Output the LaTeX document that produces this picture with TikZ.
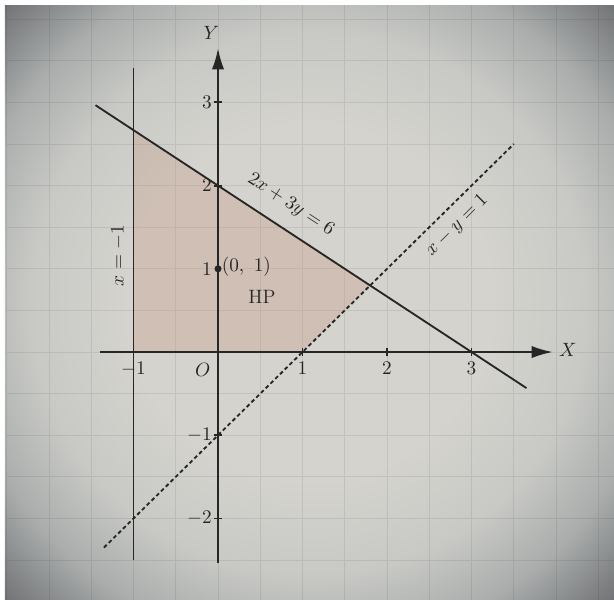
\documentclass[tikz,border=0pt]{standalone}
\usepackage{amsmath}
\usepackage{tikz}
\usetikzlibrary{arrows.meta}
\definecolor{inkgrey}{HTML}{262626}
\definecolor{paperlight}{RGB}{212,211,206}
\definecolor{papermid}{RGB}{200,201,197}
\definecolor{paperedge}{RGB}{170,173,172}
\definecolor{paperdark}{RGB}{108,110,113}
\definecolor{regiontint}{RGB}{196,148,124}
\pgfdeclareradialshading{paperglow}{\pgfpoint{0bp}{0bp}}{color(0bp)=(paperlight); color(15bp)=(paperlight); color(23bp)=(papermid); color(29bp)=(paperedge); color(36bp)=(paperdark); color(50bp)=(paperdark)}
\tikzset{
  axisline/.style={-{Latex[length=12pt,width=7pt]}, line width=1.05pt, draw=inkgrey},
  boundline/.style={line width=1.05pt, draw=inkgrey},
  dotline/.style={line width=1.05pt, draw=inkgrey, dash pattern=on 2.2pt off 1.6pt},
  ticklabel/.style={font=\fontsize{11}{13}\selectfont, text=inkgrey, inner sep=1pt},
  eqlabel/.style={font=\fontsize{11}{13}\selectfont, text=inkgrey, inner sep=1pt},
  gridline/.style={line width=0.5pt, draw=black, opacity=0.08}
}

\begin{document}
\begin{tikzpicture}[x=1.69cm,y=1.664cm]
  \useasboundingbox[fill=white] (-2.580,-2.969) rectangle (4.686,4.231);
  \shade[shading=paperglow] (-2.521,-2.969) rectangle (4.686,4.159);
  \begin{scope}
    \clip (-2.521,-2.969) rectangle (4.686,4.159);
    \draw[gridline, step=0.5] (-2.5,-3) grid (4.7,4.2);
  \end{scope}
  % feasible half plane
  \fill[regiontint, opacity=0.3] (-1,0) -- (-1,8/3) -- (9/5,4/5) -- (1,0) -- cycle;
  % axes
  \draw[axisline] (-1.40,0) -- (3.96,0);
  \draw[axisline] (0,-2.54) -- (0,3.65);
  \node[ticklabel] (xname) at (4.14,0.03) {$X$};
  \node[ticklabel] (yname) at (-0.08,3.83) {$Y$};
  \foreach \k in {-1,1,2,3}
    \draw[boundline] (\k,-0.05) -- (\k,0.05);
  \foreach \k in {-2,-1,2,3}
    \draw[boundline] (-0.05,\k) -- (0.05,\k);
  \node[ticklabel, anchor=north] (xm1) at (-1,-0.1) {$-1$};
  \node[ticklabel] (origin) at (-0.18,-0.22) {$O$};
  \foreach \k in {1,2,3}
    \node[ticklabel, anchor=north] (x\k) at (\k,-0.1) {$\k$};
  \foreach \k in {-2,-1,1,2,3}
    \node[ticklabel, anchor=east] (y\k) at (-0.05,\k) {$\k$};
  % boundary lines
  \draw[boundline] (-1,-2.5) -- (-1,3.41);
  \draw[boundline] (-1.45,{(6+2*1.45)/3}) -- (3.65,{(6-2*3.65)/3});
  \draw[dotline] (-1.35,-2.35) -- (3.5,2.5);
  \node[eqlabel, rotate=90] (vlab) at (-1.18,1.16) {$x=-1$};
  \node[eqlabel, rotate=-33] (slab) at (0.86,1.77) {$2x+3y=6$};
  \node[eqlabel, rotate=45] (dlab) at (2.83,1.52) {$x-y=1$};
  % point and region label
  \fill[inkgrey] (0,1) circle[radius=2pt];
  \node[ticklabel, anchor=west] (pt) at (0.02,1.03) {$(0,\ 1)$};
  \node[ticklabel] (hp) at (0.52,0.66) {HP};
\end{tikzpicture}
\end{document}
